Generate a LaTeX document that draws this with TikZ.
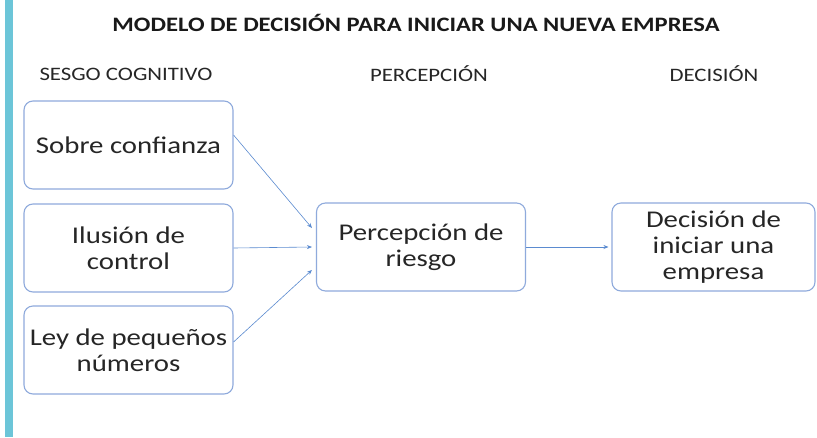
\documentclass[tikz,border=0pt]{standalone}
\usepackage{fontspec}
\setmainfont{Carlito}[FakeStretch=1.2]
\usetikzlibrary{arrows.meta}
\definecolor{barc}{HTML}{6CC5D8}
\definecolor{boxc}{HTML}{8FAADC}
\definecolor{arrc}{HTML}{5B8BD0}
\tikzset{
  box/.style={draw=boxc, line width=1.1pt, rounded corners=9pt, minimum width=209pt, minimum height=88pt, align=center, font=\fontsize{24}{26}\selectfont, inner sep=2pt, text=black!85},
  head/.style={font=\fontsize{19}{22}\selectfont, text=black!85},
  conn/.style={draw=arrc, line width=0.6pt, -{Stealth[length=5pt,width=4pt]}}
}
\begin{document}
\begin{tikzpicture}[x=1pt,y=1pt]
\useasboundingbox (0,0) rectangle (817,-437);
\fill[white] (0,0) rectangle (817,-437);
\fill[barc] (5,0) rectangle (13,-437);
\node[font=\bfseries\fontsize{20.5}{24}\selectfont, text=black!90] (title) at (416,-23) {MODELO DE DECISIÓN PARA INICIAR UNA NUEVA EMPRESA};
\node[head] (h1) at (126,-74) {SESGO COGNITIVO};
\node[head] (h2) at (429,-74) {PERCEPCIÓN};
\node[head] (h3) at (714,-74) {DECISIÓN};
\node[box] (b1) at (128.5,-145) {Sobre confianza};
\node[box] (b2) at (128.5,-248) {Ilusión de\\control};
\node[box] (b3) at (128.5,-350) {Ley de pequeños\\números};
\node[box] (m) at (421,-247) {Percepción de\\riesgo};
\node[box, minimum width=203pt] (d) at (713.5,-247) {Decisión de\\iniciar una\\empresa};
\draw[conn] ([yshift=10pt]b1.east) -- ([xshift=-4pt,yshift=19pt]m.west);
\draw[conn] (b2.east) -- ([xshift=-4pt]m.west);
\draw[conn] ([yshift=8pt]b3.east) -- ([xshift=-4pt,yshift=-23pt]m.west);
\draw[conn] (m.east) -- ([xshift=-3pt]d.west);
\end{tikzpicture}
\end{document}
